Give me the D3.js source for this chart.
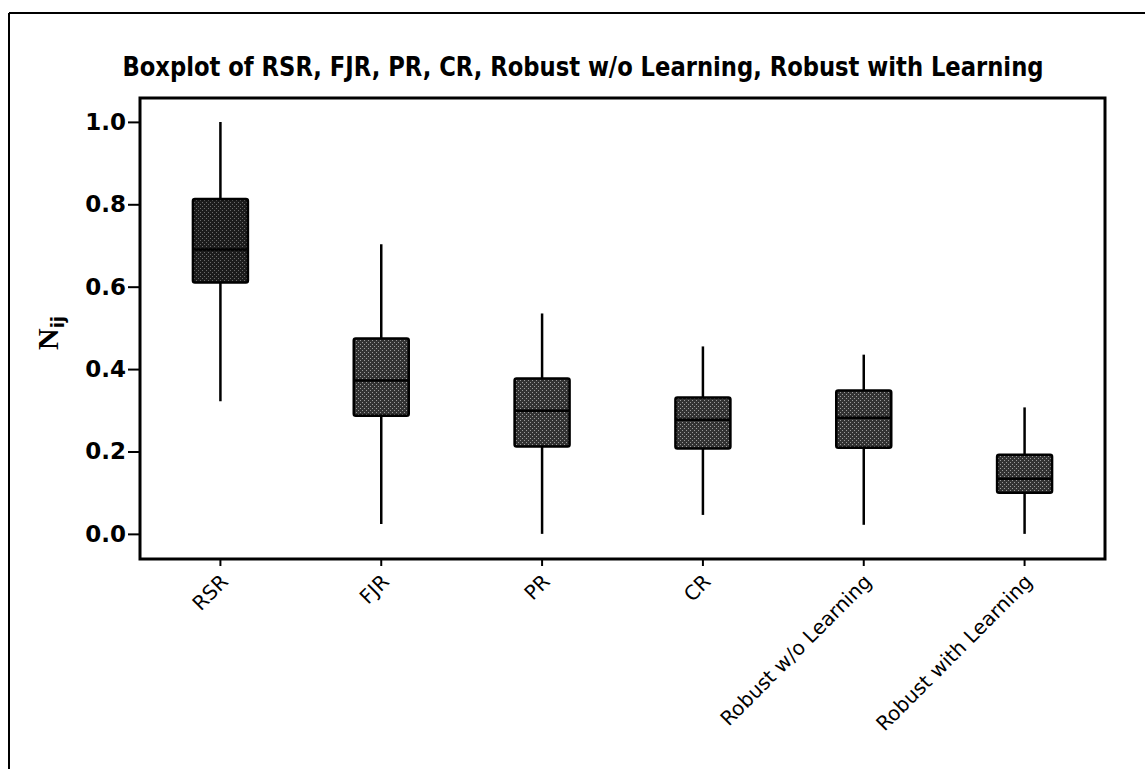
<!DOCTYPE html>
<html>
<head>
<meta charset="utf-8">
<script src="https://cdn.jsdelivr.net/npm/d3@7"></script>
<style>
  body { margin: 0; background: #fff; }
  svg { display: block; }
</style>
</head>
<body>
<svg id="chart" width="1145" height="769"></svg>
<script>
// values
var categories = ["RSR", "FJR", "PR", "CR", "Robust w/o Learning", "Robust with Learning"];
var whiskerLow = [0.322, 0.024, 0.0, 0.046, 0.022, 0.0];
var q1 = [0.610, 0.287, 0.212, 0.207, 0.209, 0.100];
var median = [0.690, 0.372, 0.299, 0.277, 0.282, 0.134];
var q3 = [0.813, 0.474, 0.377, 0.331, 0.348, 0.192];
var whiskerHigh = [1.0, 0.703, 0.535, 0.455, 0.435, 0.307];
var yTicks = [0.0, 0.2, 0.4, 0.6, 0.8, 1.0];

var boxes = categories.map((c, i) => ({
  name: c, lo: whiskerLow[i], q1: q1[i], med: median[i], q3: q3[i], hi: whiskerHigh[i]
}));

var svg = d3.select("#chart");
var plot = {left: 140, right: 1105, top: 98, bottom: 559};

// speckled fills like the scanned print
var defs = svg.append("defs");
function speckle(id, bg, dot) {
  var p = defs.append("pattern").attr("id", id).attr("width", 4).attr("height", 4)
    .attr("patternUnits", "userSpaceOnUse");
  p.append("rect").attr("width", 4).attr("height", 4).attr("fill", bg);
  p.append("rect").attr("x", 0).attr("y", 0).attr("width", 1).attr("height", 1).attr("fill", dot);
  p.append("rect").attr("x", 2).attr("y", 2).attr("width", 1).attr("height", 1).attr("fill", dot);
}
speckle("spk-dark", "#1c1c1c", "#6a6a6a");
speckle("spk", "#333", "#9a9a9a");

// outer frame (only top and left edges show in the scan)
svg.append("line").attr("x1", 9).attr("y1", 13).attr("x2", 1145).attr("y2", 13)
  .attr("stroke", "#000").attr("stroke-width", 2);
svg.append("line").attr("x1", 9).attr("y1", 13).attr("x2", 9).attr("y2", 769)
  .attr("stroke", "#000").attr("stroke-width", 2);

var x = d3.scaleBand().domain(categories).range([plot.left, plot.right]).padding(0);
var y = d3.scaleLinear().domain([-0.061, 1.058]).range([plot.bottom, plot.top]);
var bw = 55;

svg.append("text")
  .attr("x", 583).attr("y", 76)
  .attr("text-anchor", "middle")
  .attr("textLength", 921).attr("lengthAdjust", "spacingAndGlyphs")
  .style("font-family", "'DejaVu Sans Condensed', 'DejaVu Sans', sans-serif")
  .style("font-weight", "bold").style("font-size", "26px")
  .text("Boxplot of RSR, FJR, PR, CR, Robust w/o Learning, Robust with Learning");

// boxes
var g = svg.append("g");
var bx = g.selectAll("g.box").data(boxes).enter().append("g").attr("class", "box");
var cx = d => x(d.name) + x.bandwidth() / 2;
bx.append("line")
  .attr("x1", cx).attr("x2", cx)
  .attr("y1", d => y(d.hi)).attr("y2", d => y(d.lo))
  .attr("stroke", "#000").attr("stroke-width", 2.5);
bx.append("rect")
  .attr("x", d => cx(d) - bw / 2).attr("width", bw)
  .attr("y", d => y(d.q3)).attr("height", d => y(d.q1) - y(d.q3))
  .attr("rx", 2)
  .attr("fill", (d, i) => i == 0 ? "url(#spk-dark)" : "url(#spk)")
  .attr("stroke", "#000").attr("stroke-width", 2.5);
bx.append("line")
  .attr("x1", d => cx(d) - bw / 2).attr("x2", d => cx(d) + bw / 2)
  .attr("y1", d => y(d.med)).attr("y2", d => y(d.med))
  .attr("stroke", "#000").attr("stroke-width", 2.5);

// frame
svg.append("rect")
  .attr("x", plot.left).attr("y", plot.top)
  .attr("width", plot.right - plot.left).attr("height", plot.bottom - plot.top)
  .attr("fill", "none").attr("stroke", "#000").attr("stroke-width", 3);

// y axis
var yAxis = svg.append("g").attr("transform", "translate(" + plot.left + ",0)")
  .call(d3.axisLeft(y).tickValues(yTicks).tickFormat(d3.format(".1f")).tickSize(12).tickPadding(2));
yAxis.select(".domain").remove();
yAxis.selectAll("line").attr("stroke-width", 2);
yAxis.selectAll("text")
  .style("font-family", "Tahoma, 'DejaVu Sans', sans-serif")
  .style("font-weight", "bold").style("font-size", "23px").attr("fill", "#000");

// x axis
var xAxis = svg.append("g").attr("transform", "translate(0," + plot.bottom + ")")
  .call(d3.axisBottom(x).tickSize(7).tickPadding(0));
xAxis.select(".domain").remove();
xAxis.selectAll("line").attr("stroke-width", 2);
xAxis.selectAll("text")
  .style("font-family", "'DejaVu Sans', sans-serif").style("font-size", "20px")
  .attr("fill", "#000")
  .attr("text-anchor", "end")
  .attr("dy", null).attr("y", null)
  .attr("transform", "translate(9,24) rotate(-45)");

// y title
var yt = svg.append("text")
  .attr("transform", "translate(58,333) rotate(-90)")
  .attr("text-anchor", "middle")
  .style("font-family", "'Liberation Serif', 'DejaVu Serif', serif")
  .style("font-weight", "bold").style("font-size", "30px");
yt.append("tspan").text("N");
yt.append("tspan").attr("dy", 6).style("font-size", "18px").style("font-family", "'DejaVu Sans', sans-serif").text("ij");
</script>
</body>
</html>
